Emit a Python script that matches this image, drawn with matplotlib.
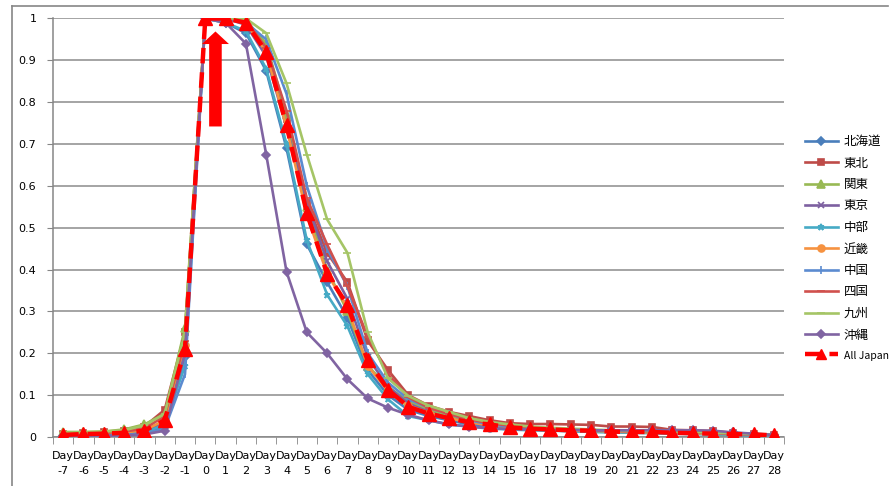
import matplotlib
matplotlib.use('Agg')
import matplotlib.pyplot as plt
from matplotlib.patches import FancyArrow
from matplotlib.lines import Line2D
import numpy as np

plt.rcParams['font.family'] = ['Noto Sans CJK JP', 'DejaVu Sans']

days = list(range(-7, 29))
tick_labels = ['Day\n{0}'.format(d) for d in days]

# values, Day -7 .. Day 28
hokkaido = [0.003, 0.004, 0.004, 0.005, 0.01, 0.025, 0.19,
            1.0, 0.99, 0.965, 0.875, 0.69, 0.46, 0.37, 0.285, 0.16, 0.1, 0.065, 0.05, 0.04, 0.03,
            0.025, 0.02, 0.018, 0.016, 0.014, 0.013, 0.012, 0.011, 0.01, 0.009, 0.008, 0.007, 0.006, 0.005, 0.004]
tohoku = [0.008, 0.009, 0.012, 0.015, 0.025, 0.065, 0.25,
          1.0, 1.0, 1.0, 0.93, 0.76, 0.56, 0.44, 0.37, 0.23, 0.16, 0.1, 0.075, 0.06, 0.05,
          0.04, 0.033, 0.031, 0.031, 0.03, 0.029, 0.025, 0.025, 0.024, 0.017, 0.016, 0.014, 0.01, 0.007, 0.005]
kanto = [0.012, 0.012, 0.013, 0.018, 0.03, 0.055, 0.26,
         1.0, 1.0, 0.995, 0.94, 0.77, 0.55, 0.4, 0.3, 0.17, 0.12, 0.085, 0.065, 0.05, 0.04,
         0.032, 0.026, 0.022, 0.02, 0.018, 0.016, 0.015, 0.014, 0.013, 0.012, 0.011, 0.01, 0.008, 0.006, 0.005]
tokyo = [0.005, 0.006, 0.007, 0.009, 0.013, 0.035, 0.2,
         1.0, 1.0, 0.985, 0.91, 0.74, 0.56, 0.42, 0.33, 0.19, 0.12, 0.08, 0.06, 0.045, 0.035,
         0.028, 0.023, 0.02, 0.018, 0.017, 0.016, 0.015, 0.014, 0.013, 0.012, 0.011, 0.01, 0.008, 0.006, 0.005]
chubu = [0.003, 0.004, 0.005, 0.007, 0.01, 0.03, 0.17,
         1.0, 0.99, 0.97, 0.88, 0.7, 0.47, 0.34, 0.265, 0.15, 0.09, 0.05, 0.04, 0.03, 0.025,
         0.02, 0.018, 0.016, 0.015, 0.014, 0.012, 0.011, 0.01, 0.009, 0.008, 0.007, 0.006, 0.005, 0.004, 0.003]
kinki = [0.006, 0.007, 0.009, 0.011, 0.016, 0.04, 0.22,
         1.0, 1.0, 0.99, 0.92, 0.74, 0.53, 0.39, 0.31, 0.17, 0.11, 0.075, 0.058, 0.045, 0.035,
         0.028, 0.024, 0.02, 0.018, 0.016, 0.015, 0.013, 0.012, 0.011, 0.01, 0.009, 0.008, 0.007, 0.006, 0.005]
chugoku = [0.002, 0.003, 0.004, 0.005, 0.008, 0.02, 0.15,
           1.0, 1.0, 0.99, 0.95, 0.82, 0.6, 0.45, 0.36, 0.2, 0.13, 0.09, 0.07, 0.055, 0.04,
           0.03, 0.025, 0.022, 0.02, 0.018, 0.016, 0.015, 0.014, 0.013, 0.012, 0.011, 0.01, 0.008, 0.006, 0.005]
shikoku = [0.007, 0.008, 0.01, 0.013, 0.02, 0.05, 0.23,
           1.0, 1.0, 0.995, 0.93, 0.78, 0.57, 0.46, 0.36, 0.24, 0.15, 0.095, 0.07, 0.055, 0.042,
           0.033, 0.027, 0.023, 0.02, 0.018, 0.016, 0.015, 0.014, 0.013, 0.012, 0.011, 0.01, 0.008, 0.006, 0.005]
kyushu = [0.01, 0.011, 0.013, 0.016, 0.028, 0.055, 0.25,
          1.0, 1.0, 1.0, 0.965, 0.845, 0.675, 0.52, 0.44, 0.25, 0.14, 0.098, 0.075, 0.06, 0.045,
          0.036, 0.03, 0.025, 0.022, 0.02, 0.018, 0.016, 0.015, 0.014, 0.013, 0.012, 0.011, 0.009, 0.007, 0.006]
okinawa = [0.002, 0.002, 0.003, 0.004, 0.006, 0.015, 0.2,
           1.0, 0.99, 0.94, 0.675, 0.395, 0.25, 0.2, 0.138, 0.092, 0.07, 0.053, 0.04, 0.03, 0.025,
           0.021, 0.019, 0.018, 0.017, 0.017, 0.016, 0.016, 0.016, 0.016, 0.016, 0.016, 0.015, 0.011, 0.008, 0.005]
all_japan = [0.005, 0.007, 0.008, 0.01, 0.015, 0.04, 0.21,
             1.0, 1.0, 0.99, 0.92, 0.745, 0.535, 0.39, 0.315, 0.183, 0.113, 0.072, 0.056, 0.045, 0.035,
             0.03, 0.023, 0.02, 0.018, 0.016, 0.015, 0.013, 0.012, 0.012, 0.01, 0.009, 0.008, 0.007, 0.006, 0.004]

series = [
    ('北海道', hokkaido, '#4A7EBB', 'D', 4.5),
    ('東北', tohoku, '#BE4B48', 's', 5),
    ('関東', kanto, '#98B954', '^', 5.5),
    ('東京', tokyo, '#7D60A0', 'x', 5),
    ('中部', chubu, '#46AAC5', '*', 5),
    ('近畿', kinki, '#F69240', 'o', 5),
    ('中国', chugoku, '#5B8BD0', '|', 6),
    ('四国', shikoku, '#D0504D', '_', 6),
    ('九州', kyushu, '#A5C566', '_', 6),
    ('沖縄', okinawa, '#8064A2', 'D', 4.5),
]

fig = plt.figure(figsize=(8.9, 4.86), dpi=100)
ax = fig.add_axes([53 / 890, 1 - 437 / 486, (784 - 53) / 890, (437 - 18.5) / 486])

x = np.arange(len(days))
for name, vals, col, mk, ms in series:
    ax.plot(x, vals, color=col, lw=1.9, marker=mk, markersize=ms,
            markeredgecolor=col, markerfacecolor=col, markeredgewidth=1.2, label=name, zorder=3)

ax.plot(x, all_japan, color='#FF0000', lw=3.2, ls=(0, (3.5, 2)), marker='^', markersize=10,
        markeredgecolor='#FF0000', markerfacecolor='#FF0000', label='All Japan', zorder=5)

# red arrow pointing at Day 0
ax.add_patch(FancyArrow(7.5, 0.742, 0, 0.227, width=0.62, head_width=1.33, head_length=0.03,
                        length_includes_head=True, color='#FF0000', lw=0, zorder=6))

ax.set_xlim(-0.5, len(days) - 0.5)
ax.set_ylim(0, 1)
ax.set_yticks(np.arange(0, 1.01, 0.1))
ax.set_yticklabels(['0', '0.1', '0.2', '0.3', '0.4', '0.5', '0.6', '0.7', '0.8', '0.9', '1'],
                   fontsize=8, family='DejaVu Sans')
ax.set_xticks(x)
ax.set_xticklabels(tick_labels, fontsize=8, family='DejaVu Sans', linespacing=1.6)
ax.set_xticks(np.arange(-0.5, len(days), 1), minor=True)
ax.tick_params(axis='x', which='major', length=0, pad=10)
ax.tick_params(axis='x', which='minor', length=5, color='#868686', direction='out')
ax.tick_params(axis='y', length=4, color='#868686', pad=8)
ax.grid(axis='y', color='#8C8C8C', lw=1.1)
ax.set_axisbelow(True)
for s in ['top', 'right']:
    ax.spines[s].set_visible(False)
for s in ['left', 'bottom']:
    ax.spines[s].set_color('#868686')
    ax.spines[s].set_linewidth(1.1)

leg = ax.legend(loc='upper left', bbox_to_anchor=(800 / 890, 1 - 130 / 486),
                bbox_transform=fig.transFigure, frameon=False, fontsize=9,
                handlelength=2.6, labelspacing=0.68, borderaxespad=0, handletextpad=0.5)
for t in leg.get_texts():
    if t.get_text() == 'All Japan':
        t.set_fontsize(7.5)
leg.legend_handles[-1].set_markersize(7)

# chart area border (top and left edges visible)
fig.add_artist(Line2D([12 / 890, 12 / 890], [0, 1 - 6 / 486], transform=fig.transFigure,
                      color='#868686', lw=1.2))
fig.add_artist(Line2D([12 / 890, 888 / 890], [1 - 6 / 486, 1 - 6 / 486], transform=fig.transFigure,
                      color='#868686', lw=1.2))

plt.savefig('out.png', dpi=100)
